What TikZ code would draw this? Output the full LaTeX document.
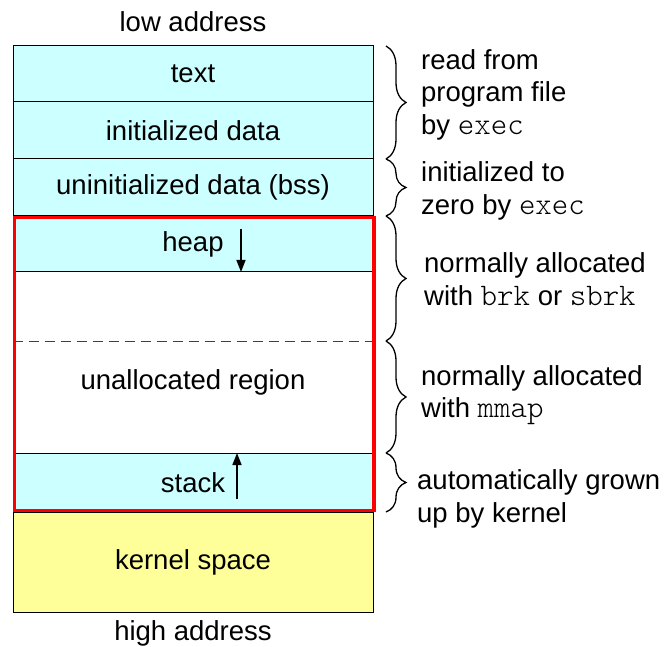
\documentclass[tikz,border=0pt]{standalone}
\usepackage{fontspec}
\setmainfont{Liberation Sans}
\setmonofont[Scale=1.14]{Latin Modern Mono Light}
\usetikzlibrary{decorations.pathreplacing,arrows.meta}
\definecolor{segcyan}{HTML}{CCFFFF}
\definecolor{segyellow}{HTML}{FFFF99}
\definecolor{dashgray}{HTML}{404040}
\begin{document}
\begin{tikzpicture}[x=1pt,y=-1pt,
  font=\fontsize{27.5}{32.5}\selectfont,
  seg/.style={draw=black, line width=1pt, minimum width=360pt, inner sep=0pt},
  cyanseg/.style={seg, fill=segcyan},
  note/.style={anchor=west, align=left, inner sep=0pt},
  bracedeco/.style={decorate, decoration={brace, amplitude=20pt}, line width=1.3pt},
  growarrow/.style={line width=1.5pt, -{Triangle[length=12pt,width=9pt]}},
  label/.style={inner sep=0pt}]
\useasboundingbox (0,0) rectangle (667,647);

% segments
\node[cyanseg, minimum height=56pt] (txt) at (193,74) {text};
\node[cyanseg, minimum height=57pt] (idata) at (193,130.5) {initialized data};
\node[cyanseg, minimum height=57pt] (bss) at (193,187.5) {uninitialized data (bss)};
\node[cyanseg, minimum height=56pt] (heap) at (193,244) {heap};
\node[seg, fill=white, minimum height=181pt] (unalloc) at (193,362.5) {};
\node[cyanseg, minimum height=59pt] (stack) at (193,482.5) {stack};
\node[seg, fill=segyellow, minimum height=100pt] (kernel) at (193,562) {kernel space};
\node[label] (unalloctext) at (193,382) {unallocated region};

% dashed boundary
\coordinate (dl) at (13,341);
\coordinate (dr) at (373,341);
\draw[dashgray, line width=1pt, dash pattern=on 10pt off 6pt] (dl) -- (dr);

% address labels
\node[label] (low) at (193,22) {low address};
\node[label] (high) at (193,633) {high address};

% growth arrows
\coordinate (hs) at (241,229);
\coordinate (he) at (241,272);
\draw[growarrow] (hs) -- (he);
\coordinate (ss) at (237,499);
\coordinate (se) at (237,453);
\draw[growarrow] (ss) -- (se);

% red frame
\coordinate (r1) at (14.5,217.5);
\coordinate (r2) at (374,510.5);
\draw[red, line width=3.5pt] (r1) rectangle (r2);

% braces
\coordinate (b0) at (386,46);
\coordinate (b1) at (386,159);
\coordinate (b2) at (386,216);
\coordinate (b3) at (386,341);
\coordinate (b4) at (386,453);
\coordinate (b5) at (386,512);
\draw[bracedeco] (b0) -- (b1);
\draw[bracedeco] (b1) -- (b2);
\draw[bracedeco] (b2) -- (b3);
\draw[bracedeco] (b3) -- (b4);
\draw[bracedeco] (b4) -- (b5);

% notes
\node[note] (n1) at (421,94.5) {read from\\program file\\by \texttt{exec}};
\node[note] (n2) at (421,191) {initialized to\\zero by \texttt{exec}};
\node[note] (n3) at (424,279) {normally allocated\\with \texttt{brk} or \texttt{sbrk}};
\node[note] (n4) at (421,395) {normally allocated\\with \texttt{mmap}};
\node[note] (n5) at (417,499) {automatically grown\\up by kernel};
\end{tikzpicture}
\end{document}
